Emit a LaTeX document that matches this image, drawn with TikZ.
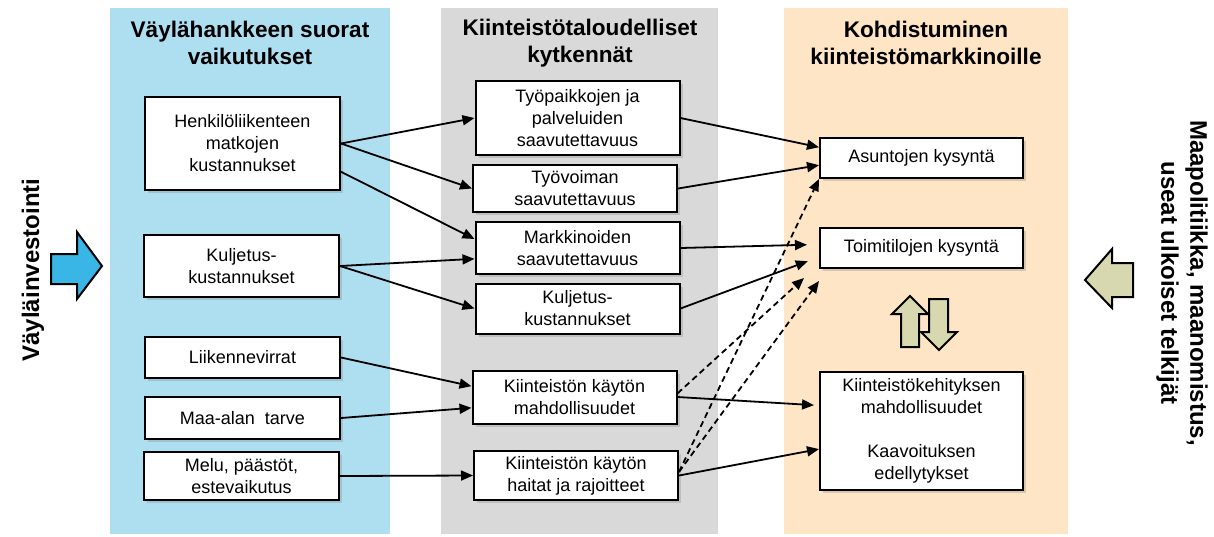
\documentclass[tikz,border=0pt]{standalone}
\usepackage{fontspec}
\setmainfont{Liberation Sans}
\usetikzlibrary{positioning, arrows.meta, calc, shadows}
\definecolor{vayla}{RGB}{173,223,241}
\definecolor{kytk}{RGB}{217,217,217}
\definecolor{kohde}{RGB}{253,229,198}
\definecolor{investo}{RGB}{57,182,229}
\definecolor{oliivi}{RGB}{215,215,176}

\begin{document}
\begin{tikzpicture}[x=0.5pt, y=-0.5pt,
  head/.style={font=\fontsize{11.3}{13.5}\selectfont\bfseries, align=center},
  box/.style={draw, line width=1pt, fill=white, align=center, inner sep=2pt,
              font=\fontsize{9}{11}\selectfont,
              drop shadow={shadow xshift=1.5pt, shadow yshift=-1.5pt, opacity=0.3}},
  lbox/.style={box, minimum width=97.5pt},
  mbox/.style={box, minimum width=102pt},
  rbox/.style={box, minimum width=101.5pt},
  arr/.style={-{Triangle[length=6pt,width=5pt]}, line width=0.9pt},
  darr/.style={arr, dash pattern=on 3pt off 2pt},
  side/.style={font=\fontsize{12}{14.5}\selectfont\bfseries, align=center},
  bigarrow/.style={draw, line width=1pt, fill=#1, line join=miter}
]
  \useasboundingbox (0,0) rectangle (1214,536);

  % taustapalkit
  \fill[vayla] (110,8) rectangle (390,534);
  \fill[kytk] (441,8) rectangle (718,534);
  \fill[kohde] (784,8) rectangle (1068,534);

  \node[head] (hvayla) at (250,43) {Väylähankkeen suorat\\vaikutukset};
  \node[head] (hkytk) at (580,43) {Kiinteistötaloudelliset\\kytkennät};
  \node[head] (hkohde) at (926,43) {Kohdistuminen\\kiinteistömarkkinoille};

  % sivut
  \node[side, rotate=90] (invest) at (33,270) {Väyläinvestointi};
  \node[side, rotate=-90] (maapol) at (1182,283) {Maapolitiikka, maanomistus,\\useat ulkoiset telkijät};
  \draw[bigarrow=investo] (51,254) -- (77,254) -- (77,232) -- (102,266) -- (77,299) -- (77,284) -- (51,284) -- cycle;
  \draw[bigarrow=oliivi] (1133,263) -- (1112,263) -- (1112,249) -- (1085,280) -- (1112,308) -- (1112,297) -- (1133,297) -- cycle;

  % suorat vaikutukset
  \node[lbox, minimum height=46.5pt] (henk) at (242.5,143.5) {Henkilöliikenteen\\matkojen\\kustannukset};
  \node[lbox, minimum height=31pt] (kulj1) at (241.5,266) {Kuljetus-\\kustannukset};
  \node[lbox, minimum height=20.5pt] (liik) at (242.5,357.5) {Liikennevirrat};
  \node[lbox, minimum height=21pt] (maa) at (242.5,418) {Maa-alan\ \ tarve};
  \node[lbox, minimum height=24pt] (melu) at (241.5,476) {Melu, päästöt,\\estevaikutus};

  % kytkennat
  \node[mbox, minimum height=37pt] (tyopa) at (577.5,118) {Työpaikkojen ja\\palveluiden\\saavutettavuus};
  \node[mbox, minimum height=23.5pt] (tyovo) at (575,188.5) {Työvoiman\\saavutettavuus};
  \node[mbox, minimum height=26pt] (markk) at (577.5,248) {Markkinoiden\\saavutettavuus};
  \node[mbox, minimum height=25pt] (kulj2) at (577.5,308.5) {Kuljetus-\\kustannukset};
  \node[mbox, minimum height=26.5pt] (mahd) at (574.5,397) {Kiinteistön käytön\\mahdollisuudet};
  \node[mbox, minimum height=24.5pt] (hait) at (576,475.5) {Kiinteistön käytön\\haitat ja rajoitteet};

  % markkinat
  \node[rbox, minimum height=20pt] (asun) at (921.5,158) {Asuntojen kysyntä};
  \node[rbox, minimum height=20pt] (toimi) at (921.5,248) {Toimitilojen kysyntä};
  \node[rbox, minimum height=59pt] (kehit) at (921.5,431) {Kiinteistökehityksen\\mahdollisuudet\\[11pt]Kaavoituksen\\edellytykset};

  % vastakkaiset nuolet
  \draw[bigarrow=oliivi] (929,299) -- (948,299) -- (948,332) -- (957,332) -- (939,350) -- (921,332) -- (929,332) -- cycle;
  \draw[bigarrow=oliivi] (901,347) -- (901,314) -- (892,314) -- (910,296) -- (928,314) -- (919,314) -- (919,347) -- cycle;

  \draw[arr] (henk.east) -- (tyopa.west);
  \draw[arr] (henk.east) -- (tyovo.west);
  \draw[arr] (henk.-16) -- (markk.175);
  \draw[arr] (kulj1.east) -- (markk.186);
  \draw[arr] (kulj1.east) -- (kulj2.west);
  \draw[arr] (liik.east) -- (mahd.174);
  \draw[arr] (maa.east) -- (mahd.186);
  \draw[arr] (melu.east) -- (hait.west);

  \draw[arr] (tyopa.east) -- (asun.174);
  \draw[arr] (tyovo.east) -- (asun.184);
  \draw[arr, shorten >=6pt] (markk.east) -- (toimi.178);
  \draw[arr, shorten >=6pt] (kulj2.east) -- (toimi.185);
  \draw[arr, shorten >=2.5pt] (mahd.east) -- (kehit.166);
  \draw[arr] (hait.east) -- (kehit.190);

  \draw[darr] (hait.2) -- (asun.south west);
  \draw[darr] (hait.2) -- ($(toimi.south west)+(0,12)$);
  \draw[darr] (mahd.2) -- ($(toimi.south west)+(-15,9)$);
\end{tikzpicture}
\end{document}
